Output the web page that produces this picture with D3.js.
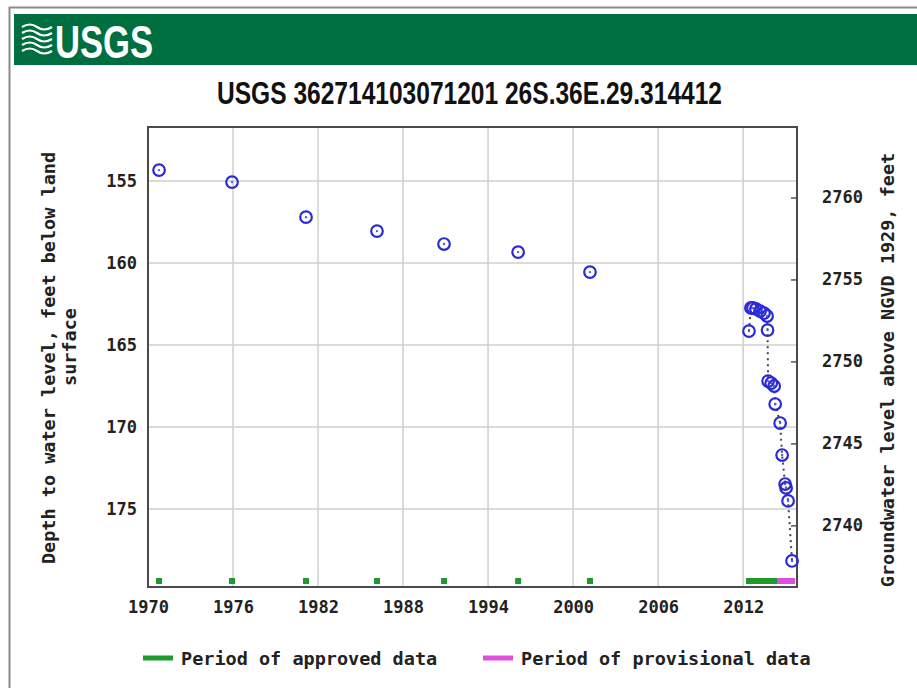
<!DOCTYPE html>
<html>
<head>
<meta charset="utf-8">
<script src="https://cdn.jsdelivr.net/npm/d3@7"></script>
<style>
  body { margin: 0; background: #fff; }
  svg text { font-family: "DejaVu Sans Mono", monospace; font-weight: bold; fill: #222; }
</style>
</head>
<body>
<svg id="chart" width="917" height="688"></svg>
<script>
// Data
const years = [1970.78, 1975.93, 1981.15, 1986.16, 1990.89, 1996.12, 2001.19,
  2012.41, 2012.55, 2012.69, 2012.90, 2013.19, 2013.47, 2013.69, 2013.72,
  2013.76, 2013.98, 2014.19, 2014.26, 2014.61, 2014.75, 2014.96, 2015.03, 2015.17, 2015.45];
const depths = [154.33, 155.06, 157.20, 158.05, 158.84, 159.33, 160.55,
  164.15, 162.74, 162.74, 162.80, 162.93, 163.05, 163.23, 164.09,
  167.20, 167.32, 167.50, 168.60, 169.76, 171.71, 173.48, 173.72, 174.51, 178.17];
// A = approved, P = provisional
const status = ['A', 'A', 'A', 'A', 'A', 'A', 'A',
  'A', 'A', 'A', 'A', 'A', 'A', 'A', 'A',
  'A', 'A', 'A', 'A', 'P', 'P', 'P', 'P', 'P', 'P'];
const xTicks = [1970, 1976, 1982, 1988, 1994, 2000, 2006, 2012];
const yTicks = [155, 160, 165, 170, 175];
const elevTicks = [2740, 2745, 2750, 2755, 2760];
const landSurface = 2916; // elevation = landSurface - depth
const title = 'USGS 362714103071201 26S.36E.29.314412';

const green = '#1e9a2a';
const pink = '#e04ee0';
const blue = '#2a2ad8';

const svg = d3.select('#chart');

// Outer frame and header band
svg.append('path')
  .attr('d', 'M9.5,688 V7.5 H917')
  .attr('fill', 'none')
  .attr('stroke', '#8a8a8a')
  .attr('stroke-width', 2);
svg.append('rect')
  .attr('x', 14).attr('y', 14)
  .attr('width', 903).attr('height', 51)
  .attr('fill', '#006f3f');

// USGS logo
const logo = svg.append('g').attr('fill', 'none').attr('stroke', '#fff').attr('stroke-width', 2.2);
[0, 6, 12, 18, 24].forEach((o) => {
  logo.append('path')
    .attr('d', `M22,${27 + o} q8,-5 15,0 t15,0`);
});
svg.append('text')
  .attr('x', 55).attr('y', 58)
  .attr('textLength', 98)
  .attr('lengthAdjust', 'spacingAndGlyphs')
  .style('font-family', '"Liberation Sans Narrow", "Liberation Sans", Arial, sans-serif')
  .style('font-size', '46px')
  .style('fill', '#fff')
  .text('USGS');

// Title
svg.append('text')
  .attr('x', 217).attr('y', 104)
  .attr('textLength', 505)
  .attr('lengthAdjust', 'spacingAndGlyphs')
  .style('font-family', '"Liberation Sans Narrow", "Liberation Sans", Arial, sans-serif')
  .style('font-size', '31px')
  .style('fill', '#111')
  .text(title);

// Scales
const pLeft = 148, pRight = 797, pTop = 127, pBottom = 587;
const x = d3.scaleLinear().domain([1970, 2015.8]).range([pLeft, pRight]);
const y = d3.scaleLinear().domain([151.7, 179.76]).range([pTop, pBottom]);
const yElev = d3.scaleLinear()
  .domain([landSurface - 151.7, landSurface - 179.76])
  .range([pTop, pBottom]);

// Grid
const grid = svg.append('g').attr('stroke', '#cfcfcf').attr('stroke-width', 1.5);
grid.selectAll('.vg')
  .data(xTicks.slice(1))
  .enter()
  .append('line')
    .attr('x1', (d) => x(d)).attr('x2', (d) => x(d))
    .attr('y1', pTop).attr('y2', pBottom);
grid.selectAll('.hg')
  .data(yTicks)
  .enter()
  .append('line')
    .attr('x1', pLeft).attr('x2', pRight)
    .attr('y1', (d) => y(d)).attr('y2', (d) => y(d));

// Axes
const tickFont = (g) => g.selectAll('text')
  .style('font-family', '"DejaVu Sans Mono", monospace')
  .style('font-weight', 'bold')
  .style('font-size', '17px')
  .attr('fill', '#222');

svg.append('g')
  .attr('transform', `translate(0,${pBottom})`)
  .call(d3.axisBottom(x).tickValues(xTicks).tickFormat(d3.format('d')).tickSize(0).tickPadding(14))
  .call((g) => g.select('.domain').remove())
  .call(tickFont);

svg.append('g')
  .attr('transform', `translate(${pLeft},0)`)
  .call(d3.axisLeft(y).tickValues(yTicks).tickSize(0).tickPadding(11))
  .call((g) => g.select('.domain').remove())
  .call(tickFont);

svg.append('g')
  .attr('transform', `translate(${pRight},0)`)
  .call(d3.axisRight(yElev).tickValues(elevTicks).tickFormat(d3.format('d'))
    .tickSizeInner(-6).tickSizeOuter(0).tickPadding(25))
  .call((g) => g.select('.domain').remove())
  .call((g) => g.selectAll('line').attr('stroke', '#555').attr('stroke-width', 1.5))
  .call(tickFont);

// Plot frame
svg.append('rect')
  .attr('x', pLeft).attr('y', pTop)
  .attr('width', pRight - pLeft).attr('height', pBottom - pTop)
  .attr('fill', 'none')
  .attr('stroke', '#4a4a4a')
  .attr('stroke-width', 2);

// Axis titles
svg.append('text')
  .attr('transform', 'translate(55,358) rotate(-90)')
  .attr('text-anchor', 'middle')
  .style('font-size', '18.5px')
  .text('Depth to water level, feet below land');
svg.append('text')
  .attr('transform', 'translate(76,347) rotate(-90)')
  .attr('text-anchor', 'middle')
  .style('font-size', '18.5px')
  .text('surface');
svg.append('text')
  .attr('transform', 'translate(894,370) rotate(-90)')
  .attr('text-anchor', 'middle')
  .style('font-size', '18.5px')
  .text('Groundwater level above NGVD 1929, feet');

// Approval markers along the bottom
svg.selectAll('.appr')
  .data(years)
  .enter()
  .append('rect')
    .attr('x', (d) => x(d) - 3)
    .attr('y', 578)
    .attr('width', 6)
    .attr('height', 6)
    .attr('fill', (d, i) => status[i] === 'A' ? green : pink);

// Dotted line joining the recent measurements
const recent = years.map((d, i) => [d, depths[i]]).filter((d) => d[0] > 2010);
svg.append('path')
  .datum(recent)
  .attr('d', d3.line().x((d) => x(d[0])).y((d) => y(d[1])))
  .attr('fill', 'none')
  .attr('stroke', '#444')
  .attr('stroke-width', 2)
  .attr('stroke-dasharray', '2,4');

// Points
const pts = svg.selectAll('.pt')
  .data(years)
  .enter()
  .append('g')
    .attr('transform', (d, i) => `translate(${x(d)},${y(depths[i])})`);
pts.append('circle')
  .attr('r', 5.8)
  .attr('fill', 'none')
  .attr('stroke', blue)
  .attr('stroke-width', 2.2);
pts.append('circle')
  .attr('r', 1.2)
  .attr('fill', '#5a5ae0');

// Legend
const legend = [
  { label: 'Period of approved data', color: green, x: 143 },
  { label: 'Period of provisional data', color: pink, x: 483 }
];
legend.forEach((l) => {
  svg.append('line')
    .attr('x1', l.x).attr('x2', l.x + 30)
    .attr('y1', 658).attr('y2', 658)
    .attr('stroke', l.color)
    .attr('stroke-width', 5);
  svg.append('text')
    .attr('x', l.x + 38).attr('y', 665)
    .style('font-size', '18.5px')
    .text(l.label);
});
</script>
</body>
</html>
